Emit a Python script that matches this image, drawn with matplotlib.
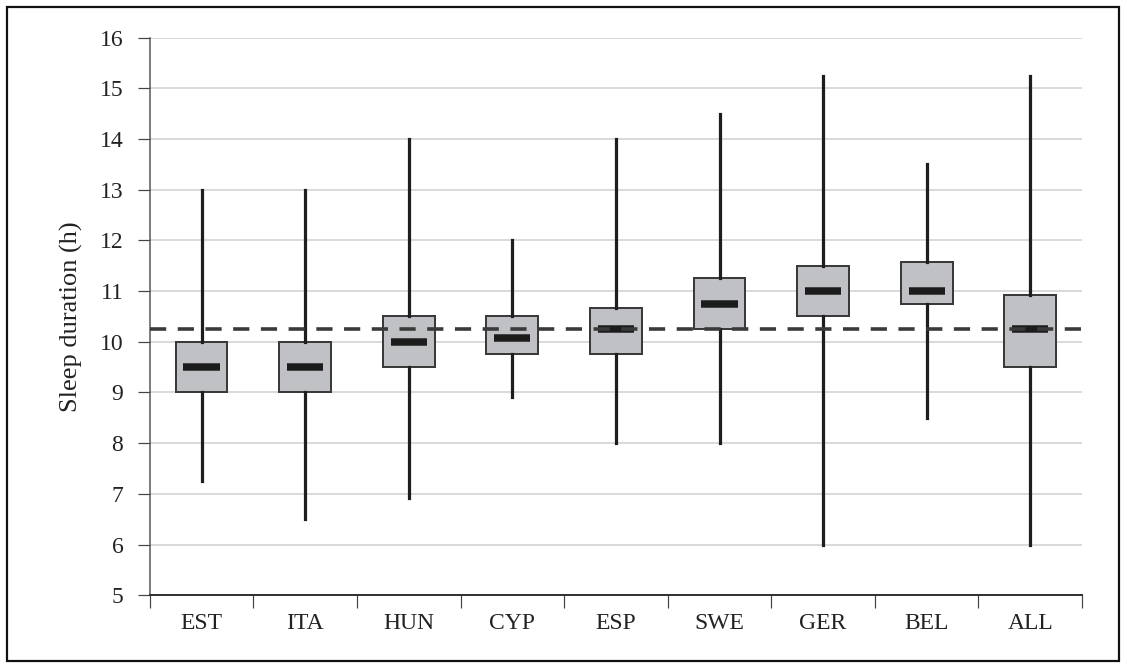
import matplotlib
matplotlib.use('Agg')
import matplotlib.pyplot as plt
from matplotlib.patches import Rectangle

# Sleep duration per country: whisker ends, quartiles and medians (hours)
countries = ['EST', 'ITA', 'HUN', 'CYP', 'ESP', 'SWE', 'GER', 'BEL', 'ALL']
lows = [7.25, 6.5, 6.92, 8.92, 8.0, 8.0, 6.0, 8.5, 6.0]
q1s = [9.0, 9.0, 9.5, 9.75, 9.75, 10.25, 10.5, 10.75, 9.5]
medians = [9.5, 9.5, 10.0, 10.08, 10.25, 10.75, 11.0, 11.0, 10.25]
q3s = [10.0, 10.0, 10.5, 10.5, 10.67, 11.25, 11.5, 11.58, 10.92]
highs = [13.0, 13.0, 14.0, 12.0, 14.0, 14.5, 15.25, 13.5, 15.25]
overall_median = 10.25

serif = ['Liberation Serif', 'DejaVu Serif']
px = 72.0 / 100  # points per pixel at dpi 100

fig = plt.figure(figsize=(11.26, 6.68), dpi=100)
ax = fig.add_axes([0.133, 0.109, 0.828, 0.8346])

stats = []
for name, lo, a, m, b, hi in zip(countries, lows, q1s, medians, q3s, highs):
    stats.append(dict(label=name, whislo=lo, q1=a, med=m, q3=b, whishi=hi, fliers=[]))

pos = list(range(1, len(countries) + 1))
ax.bxp(stats, positions=pos, widths=0.5, showcaps=False, showfliers=False,
       patch_artist=True,
       boxprops=dict(facecolor='#c0c1c4', edgecolor='#3a3a3a', linewidth=2.0 * px),
       whiskerprops=dict(color='#1e1e1e', linewidth=3.2 * px),
       medianprops=dict(linewidth=0, alpha=0))

# thick median bars, narrower than the boxes
ax.hlines(medians, [p - 0.175 for p in pos], [p + 0.175 for p in pos],
          colors='#1c1c1c', linewidth=7.5 * px, capstyle='butt', zorder=4)

ax.axhline(overall_median, color='#3a3a3a', linewidth=3.6 * px,
           dashes=(4.5, 3.2), zorder=5)

ax.set_xlim(0.5, len(countries) + 0.5)
ax.set_ylim(5, 16)
ax.set_yticks(range(5, 17))
ax.set_xticks([p + 0.5 for p in range(0, len(countries) + 1)])
ax.set_xticklabels([])
ax.set_xticks(pos, minor=True)
ax.set_xticklabels(countries, minor=True)
ax.tick_params(axis='x', which='minor', length=0, pad=13)
ax.tick_params(axis='x', which='major', length=9, width=1.2 * px, color='#444444', direction='out')
ax.tick_params(axis='y', length=9, width=1.2 * px, color='#444444', direction='out', pad=10)

for lbl in ax.get_yticklabels() + ax.get_xticklabels(minor=True):
    lbl.set_family(serif)
    lbl.set_fontsize(17)
    lbl.set_color('#222222')

ax.grid(axis='y', color='#cfcfcf', linewidth=1.5 * px)
ax.set_axisbelow(True)
for side in ['top', 'right']:
    ax.spines[side].set_visible(False)
ax.spines['left'].set_color('#555555')
ax.spines['left'].set_linewidth(1.5 * px)
ax.spines['bottom'].set_color('#333333')
ax.spines['bottom'].set_linewidth(2.0 * px)

ax.set_ylabel('Sleep duration (h)', family=serif, fontsize=19, color='#222222', labelpad=12)

# frame around the whole figure
fig.patches.append(Rectangle((0.0065, 0.0105), 0.987, 0.979, transform=fig.transFigure,
                             fill=False, edgecolor='#111111', linewidth=2.2 * px))

fig.savefig('out.png', dpi=100)
